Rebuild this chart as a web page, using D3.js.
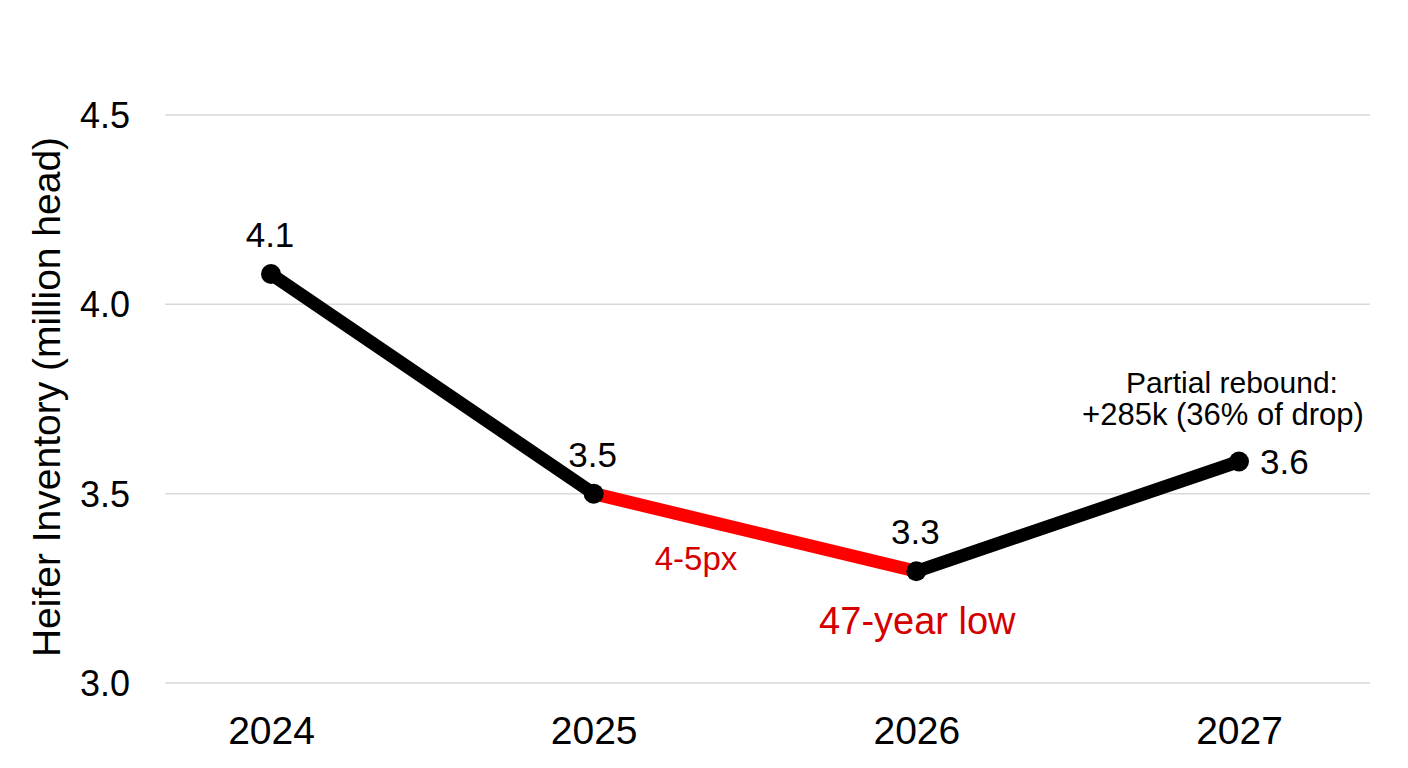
<!DOCTYPE html>
<head lang="en">
<meta charset="utf-8">
<title>Heifer Inventory</title>
<style>
body { margin:0; background:#fff; }
* { font-family:"Liberation Sans","Arial","Helvetica",sans-serif; }
</style>
<script src="https://cdn.jsdelivr.net/npm/d3@7"></script>
</head>
<body>
<script>
// Heifer inventory, million head
var years = ["2024", "2025", "2026", "2027"];
var values = [4.08, 3.50, 3.295, 3.585];
var valueLabels = ["4.1", "3.5", "3.3", "3.6"];
var yTicks = [3.0, 3.5, 4.0, 4.5];
var redSegment = 1; // segment from 2025 to 2026

var width = 1408,
    height = 768;

var svg = d3.select("body").append("svg")
    .attr("width", width)
    .attr("height", height);

var x = d3.scalePoint().domain(years).range([271, 1239]);
var y = d3.scaleLinear().domain([3.0, 4.5]).range([683, 115]);

var data = years.map(function(d, i) { return { year: d, v: values[i], label: valueLabels[i] }; });

// gridlines
svg.selectAll("line.grid")
    .data(yTicks)
    .enter()
    .append("line")
        .attr("class", "grid")
        .attr("x1", 165)
        .attr("x2", 1370)
        .attr("y1", function(d) { return y(d); })
        .attr("y2", function(d) { return y(d); })
        .style("stroke", "#d9d9d9")
        .style("stroke-width", "1.5px");

// y axis labels
var yAxis = d3.axisLeft(y).tickValues(yTicks).tickFormat(d3.format(".1f")).tickSize(0).tickPadding(0);
var gy = svg.append("g").attr("transform", "translate(130,0)").call(yAxis);
gy.select(".domain").remove();
gy.selectAll("text").style("font-size", "36px").style("fill", "#000")
    .attr("font-family", null).attr("dy", "0.35em");

// x axis labels
var xAxis = d3.axisBottom(x).tickSize(0).tickPadding(0);
var gx = svg.append("g").attr("transform", "translate(0,744)").call(xAxis);
gx.select(".domain").remove();
gx.selectAll("text").style("font-size", "39px").style("fill", "#000")
    .attr("font-family", null).attr("dy", 0).attr("y", 0);

// y title
svg.append("text")
    .attr("transform", "translate(60,397) rotate(-90)")
    .attr("text-anchor", "middle")
    .style("font-size", "39px")
    .text("Heifer Inventory (million head)");

// line segments
var line = d3.line()
    .x(function(d) { return x(d.year); })
    .y(function(d) { return y(d.v); });

var segs = d3.range(data.length - 1).map(function(i) { return [data[i], data[i + 1]]; });
svg.selectAll("path.seg")
    .data(segs)
    .enter()
    .append("path")
        .attr("class", "seg")
        .attr("d", line)
        .style("fill", "none")
        .style("stroke", function(d, i) { return i == redSegment ? "#ff0000" : "#000"; })
        .style("stroke-width", "13px");

svg.selectAll("circle")
    .data(data)
    .enter()
    .append("circle")
        .attr("cx", function(d) { return x(d.year); })
        .attr("cy", function(d) { return y(d.v); })
        .attr("r", 10)
        .style("fill", "#000");

// value labels
svg.selectAll("text.val")
    .data(data)
    .enter()
    .append("text")
        .attr("class", "val")
        .attr("x", function(d, i) { return i == 3 ? x(d.year) + 21 : x(d.year) - 1; })
        .attr("y", function(d, i) { return i == 3 ? y(d.v) + 13 : y(d.v) - 27; })
        .attr("text-anchor", function(d, i) { return i == 3 ? "start" : "middle"; })
        .style("font-size", "35px")
        .text(function(d) { return d.label; });

// annotations
svg.append("text")
    .attr("x", (x("2025") + x("2026")) / 2 - 59)
    .attr("y", 570)
    .attr("text-anchor", "middle")
    .style("font-size", "33px")
    .style("fill", "#d40000")
    .text("4-5px");

svg.append("text")
    .attr("x", x("2026") + 1)
    .attr("y", 634)
    .attr("text-anchor", "middle")
    .style("font-size", "38px")
    .style("fill", "#d40000")
    .text("47-year low");

svg.append("text")
    .attr("x", 1232)
    .attr("y", 393)
    .attr("text-anchor", "middle")
    .style("font-size", "30px")
    .text("Partial rebound:");

svg.append("text")
    .attr("x", 1223)
    .attr("y", 425)
    .attr("text-anchor", "middle")
    .style("font-size", "31px")
    .text("+285k (36% of drop)");
</script>
</body>
</html>
